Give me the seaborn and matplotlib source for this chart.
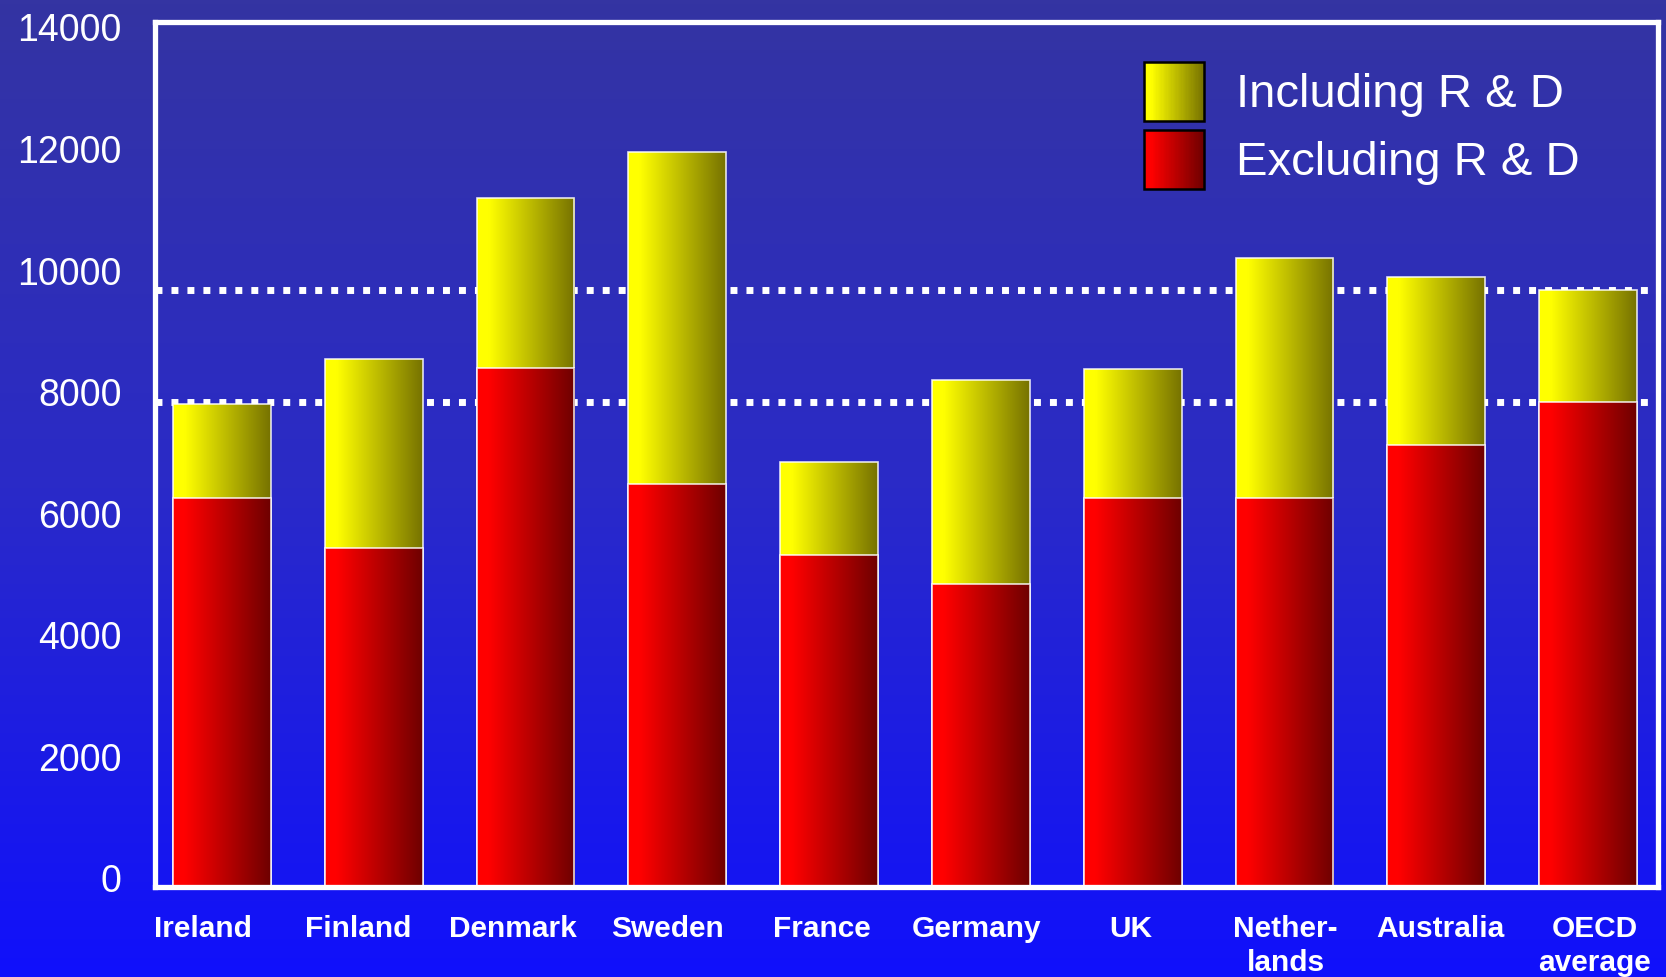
import numpy as np
import pandas as pd
import matplotlib
matplotlib.use("Agg")
import matplotlib.pyplot as plt
import seaborn as sns
from matplotlib.colors import LinearSegmentedColormap
from matplotlib.patches import Rectangle
from matplotlib.legend_handler import HandlerBase
from matplotlib.transforms import ScaledTranslation

# ---- data -----------------------------------------------------------------
countries = ["Ireland", "Finland", "Denmark", "Sweden", "France", "Germany",
             "UK", "Nether-\nlands", "Australia", "OECD\naverage"]
including_rd = [7820, 8550, 11150, 11900, 6880, 8200, 8380, 10180, 9870, 9670]
excluding_rd = [6300, 5480, 8400, 6520, 5370, 4900, 6300, 6300, 7150, 7850]
series_names = ["Including R & D", "Excluding R & D"]
y_ticks = [0, 2000, 4000, 6000, 8000, 10000, 12000, 14000]

# ---- style ------------------------------------------------------------------
sns.set_theme(style="white")
plt.rcParams["font.family"] = ["Liberation Sans", "DejaVu Sans"]

yellow_cmap = LinearSegmentedColormap.from_list(
    "yellow_shade", [(0.0, "#ffff00"), (0.12, "#ffff00"), (1.0, "#767200")])
red_cmap = LinearSegmentedColormap.from_list(
    "red_shade", [(0.0, "#ff0000"), (0.12, "#ff0000"), (1.0, "#6e0000")])

fig = plt.figure(figsize=(16.66, 9.77), dpi=100)

# vertical background gradient behind everything
bg = fig.add_axes([0, 0, 1, 1], zorder=-10)
bg_cmap = LinearSegmentedColormap.from_list("bg", ["#3434a2", "#2a2ac8", "#1010fc"])
bg.imshow(np.linspace(0, 1, 256).reshape(-1, 1), aspect="auto", cmap=bg_cmap,
          extent=[0, 1, 0, 1], origin="upper")
bg.set_axis_off()

# plotting area
W, H = 1666, 977
left, right, top, bottom = 155, 1658, 22, 887
ax = fig.add_axes([left / W, 1 - bottom / H, (right - left) / W, (bottom - top) / H])
ax.set_facecolor("none")

df = pd.DataFrame({"country": countries,
                   "including": including_rd,
                   "excluding": excluding_rd})

bar_w = 0.644
edge = dict(edgecolor=(1, 1, 1, 0.85), linewidth=1.2)
sns.barplot(data=df, x="country", y="including", color="#ffff00", saturation=1,
            width=bar_w, ax=ax, zorder=2, **edge)
sns.barplot(data=df, x="country", y="excluding", color="#ff0000", saturation=1,
            width=bar_w, ax=ax, zorder=3, **edge)

# shade each bar with a left-to-right gradient clipped to the bar shape
n = len(countries)
grad = np.linspace(0, 1, 256).reshape(1, -1)
for k, patch in enumerate(list(ax.patches)):
    cmap = yellow_cmap if k < n else red_cmap
    z = 2 if k < n else 3
    x0, y0 = patch.get_x(), patch.get_y()
    w, h = patch.get_width(), patch.get_height()
    img = ax.imshow(grad, cmap=cmap, extent=[x0, x0 + w, y0, y0 + h],
                    aspect="auto", origin="lower", zorder=z,
                    interpolation="bilinear")
    img.set_clip_path(patch)
    patch.set_facecolor("none")
    patch.set_zorder(z + 0.1)

# dotted reference lines at the OECD average levels
for level in (including_rd[-1], excluding_rd[-1]):
    ax.axhline(level, color="white", linewidth=5, linestyle=(0, (1.0, 1.3)),
               dash_capstyle="butt", zorder=1.5)

ax.set_xlim(-0.441, 9.46)
ax.set_ylim(0, 14000)
ax.set_aspect("auto")

# axis text
ax.set_yticks(y_ticks)
ax.set_yticklabels([str(v) for v in y_ticks], fontsize=27, color="white")
label_pos = -0.122 + 1.0185 * np.arange(n)
ax.set_xticks(label_pos)
ax.set_xticklabels(countries, fontsize=21.5, fontweight="bold", color="white",
                   linespacing=1.3)
ax.tick_params(axis="both", length=0)
ax.tick_params(axis="y", pad=24)
ax.tick_params(axis="x", pad=20)
ax.set_xlabel("")
ax.set_ylabel("")

# value labels sit on a slightly tighter scale than the frame
for tick in ax.yaxis.get_major_ticks():
    v = tick.get_loc()
    shift_px = -8.5 + v * 14.0 / 14000
    lab = tick.label1
    lab.set_transform(lab.get_transform()
                      + ScaledTranslation(0, -shift_px / 100, fig.dpi_scale_trans))

for spine in ax.spines.values():
    spine.set_visible(True)
    spine.set_color("white")
    spine.set_linewidth(3.8)
    spine.set_zorder(5)


# legend with shaded swatches
class GradientSwatch(HandlerBase):
    def __init__(self, cmap, **kw):
        super().__init__(**kw)
        self.cmap = cmap

    def create_artists(self, legend, orig_handle, xdescent, ydescent,
                       width, height, fontsize, trans):
        steps = 48
        arts = []
        for s in range(steps):
            arts.append(Rectangle((-xdescent + width * s / steps, -ydescent),
                                  width / steps * 1.1, height,
                                  facecolor=self.cmap((s + 0.5) / steps),
                                  edgecolor="none", transform=trans))
        arts.append(Rectangle((-xdescent, -ydescent), width, height,
                              facecolor="none", edgecolor="black",
                              linewidth=1.8, transform=trans))
        return arts


h_inc, h_exc = ax.patches[0], ax.patches[n]
leg = ax.legend([h_inc, h_exc], series_names,
                handler_map={h_inc: GradientSwatch(yellow_cmap),
                             h_exc: GradientSwatch(red_cmap)},
                loc="upper left", bbox_to_anchor=(1144 / W, 1 - 62 / H),
                bbox_transform=fig.transFigure, frameon=False,
                fontsize=34, labelcolor="white", borderpad=0, borderaxespad=0,
                handlelength=1.27, handleheight=1.56, handletextpad=0.68,
                labelspacing=0.18)
leg.set_zorder(6)

fig.savefig("out.png", dpi=100)
